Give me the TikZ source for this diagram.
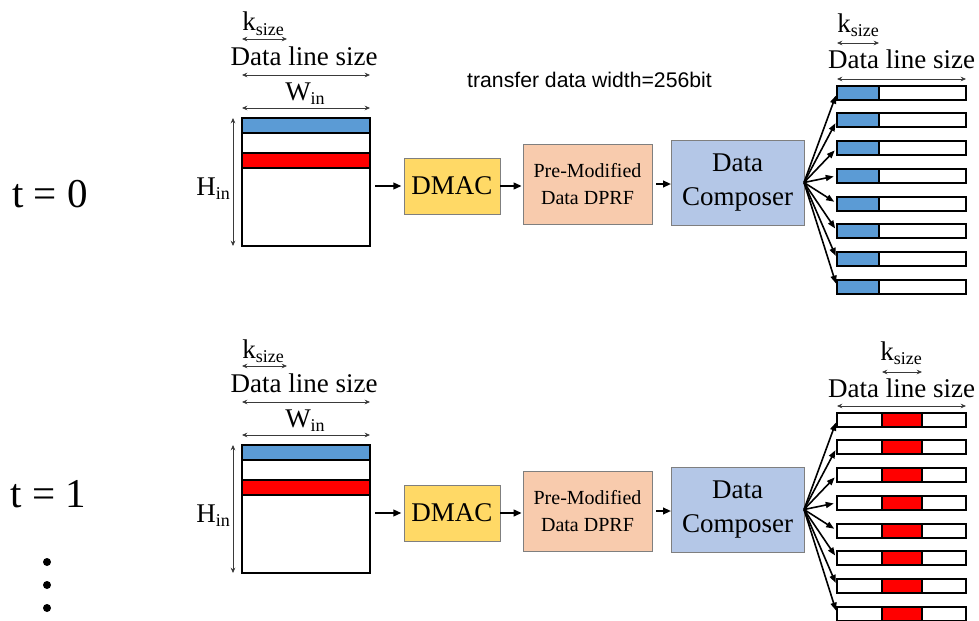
\documentclass[tikz,border=0pt]{standalone}
\usepackage{fontspec}
\setmainfont{Liberation Serif}
\setsansfont{Liberation Sans}
\usetikzlibrary{arrows.meta}

\definecolor{rowblue}{HTML}{5B9BD5}
\definecolor{rowred}{HTML}{FF0000}
\definecolor{dmacfill}{HTML}{FFD966}
\definecolor{dprffill}{HTML}{F8CBAD}
\definecolor{compfill}{HTML}{B4C7E7}
\definecolor{edgegrey}{HTML}{7F7F7F}
\definecolor{dimgrey}{HTML}{3A3A3A}

\newcommand\fsLarge{\fontsize{20.25}{25}\selectfont}
\newcommand\fsMid{\fontsize{15}{20}\selectfont}
\newcommand\fsStep{\fontsize{30.75}{34}\selectfont}
\newcommand\fsNote{\sffamily\fontsize{15.9}{18}\selectfont}
\newcommand\lowsub[1]{\raisebox{-3.5pt}{\fontsize{13.5}{14}\selectfont #1}}

\tikzset{
  mapframe/.style={draw=black, line width=1.5pt, fill=white, inner sep=0pt, outer sep=0pt},
  rowcell/.style={draw=black, line width=1.5pt},
  unitbox/.style={draw=edgegrey, line width=0.75pt, inner sep=0pt, outer sep=0pt, align=center},
  dataflow/.style={-{Triangle[length=6pt,width=5pt]}, line width=1.4pt},
  fanout/.style={-{Triangle[length=6pt,width=4.5pt]}, line width=1.2pt, shorten >=2.5pt},
  dimline/.style={{Stealth[length=4pt,width=3.5pt]}-{Stealth[length=4pt,width=3.5pt]}, line width=0.6pt, draw=dimgrey},
  dimlabel/.style={inner sep=0pt, font=\fsLarge},
}

% one time step: input map with its dimensions, the three units and the output bars
% #1 = name suffix, #2 = vertical offset
\newcommand\pipelinestage[2]{%
\begin{scope}[shift={(0,#2)}]
  % input feature map with the rows being fetched
  \node[mapframe, minimum width=96pt, minimum height=96pt, anchor=north west] (in#1) at (242,118) {};
  \draw[rowcell, fill=rowblue] (242,118) rectangle (370,133);
  \draw[rowcell, fill=white]   (242,133) rectangle (370,153);
  \draw[rowcell, fill=rowred]  (242,153) rectangle (370,168);

  % dimension marks
  \coordinate (ka#1) at (242,39);  \coordinate (kb#1) at (287,39);
  \coordinate (da#1) at (242,75);  \coordinate (db#1) at (370,75);
  \coordinate (wa#1) at (242,108); \coordinate (wb#1) at (370,108);
  \coordinate (ha#1) at (233,118); \coordinate (hb#1) at (233,246);
  \draw[dimline] (ka#1) -- (kb#1);
  \draw[dimline] (da#1) -- (db#1);
  \draw[dimline] (wa#1) -- (wb#1);
  \draw[dimline] (ha#1) -- (hb#1);
  \node[dimlabel, anchor=base] (kl#1) at (263,31) {k\lowsub{size}};
  \node[dimlabel, anchor=base] (dl#1) at (304,65) {Data line size};
  \node[dimlabel, anchor=base] (wl#1) at (305,100) {W\lowsub{in}};
  \node[dimlabel, anchor=base west] (hl#1) at (196,195) {H\lowsub{in}};

  % processing units
  \node[unitbox, fill=dmacfill, minimum width=72pt, minimum height=42pt, font=\fsLarge] (dmac#1) at (452,186) {DMAC};
  \node[unitbox, fill=dprffill, minimum width=96.75pt, minimum height=60pt, font=\fsMid] (dprf#1) at (587.5,184) {Pre-Modified\\Data DPRF};
  \node[unitbox, fill=compfill, minimum width=99.75pt, minimum height=63.75pt, font=\fsLarge] (comp#1) at (737.5,182.5) {Data\\Composer};

  \draw[dataflow, shorten <=4pt, shorten >=2pt] (in#1.east |- dmac#1.west) -- (dmac#1.west);
  \draw[dataflow, shorten >=1pt] (dmac#1.east) -- (dmac#1.east -| dprf#1.west);
  \draw[dataflow, shorten <=3pt] (dprf#1.east) -- (dprf#1.east -| comp#1.west);

  % output data lines
  \foreach \i in {0,...,7}{
    \node[mapframe, minimum width=96.75pt, minimum height=10.5pt, anchor=north west] (bar#1\i) at (837,{85.5+27.75*\i}) {};
    \draw[fanout] (comp#1.east) -- (bar#1\i.west);
  }
\end{scope}}

\begin{document}
\begin{tikzpicture}[x=0.75pt, y=-0.75pt]
  \useasboundingbox (0,0) rectangle (979,621);

  \pipelinestage{0}{0}
  \pipelinestage{1}{327}

  % t = 0 : first kernel column of the blue row
  \foreach \i in {0,...,7}
    \draw[rowcell, fill=rowblue] (bar0\i.north west) rectangle ++(42,14);
  \coordinate (oka0) at (837,43); \coordinate (okb0) at (879,43);
  \coordinate (oda0) at (837,79); \coordinate (odb0) at (966,79);
  \draw[dimline] (oka0) -- (okb0);
  \draw[dimline] (oda0) -- (odb0);
  \node[dimlabel, anchor=base] (okl0) at (858,32) {k\lowsub{size}};
  \node[dimlabel, anchor=base] (odl0) at (901.5,68) {Data line size};

  % t = 1 : next kernel column of the red row
  \foreach \i in {0,...,7}
    \draw[rowcell, fill=rowred] ([xshift=33.75pt]bar1\i.north west) rectangle ++(40,14);
  \coordinate (oka1) at (882,372); \coordinate (okb1) at (922,372);
  \coordinate (oda1) at (837,406); \coordinate (odb1) at (966,406);
  \draw[dimline] (oka1) -- (okb1);
  \draw[dimline] (oda1) -- (odb1);
  \node[dimlabel, anchor=base] (okl1) at (901,360) {k\lowsub{size}};
  \node[dimlabel, anchor=base] (odl1) at (901.5,397) {Data line size};

  % bus width note
  \node[font=\fsNote, anchor=base, inner sep=0pt] (note) at (589.5,87) {transfer data width=256bit};

  % time steps
  \node[font=\fsStep, anchor=base, inner sep=0pt] (t0) at (50,207) {t = 0};
  \node[font=\fsStep, anchor=base, inner sep=0pt] (t1) at (48.5,507) {t = 1};
  \fill (47,562) circle (3pt);
  \fill (47,585) circle (3pt);
  \fill (47,608) circle (3pt);
\end{tikzpicture}
\end{document}
